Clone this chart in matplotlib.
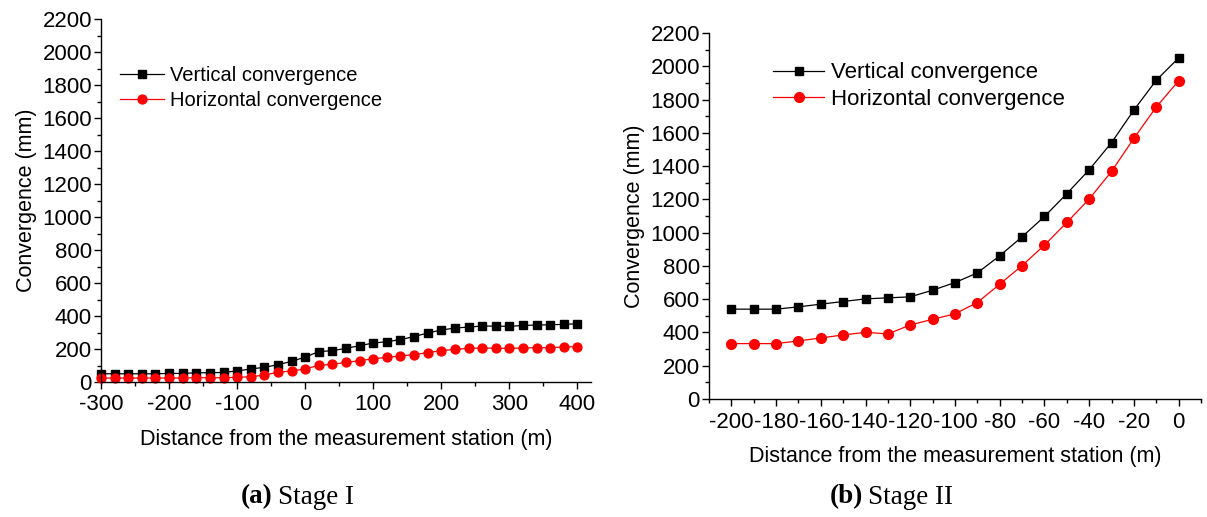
#!/usr/bin/env python3
"""Convergence vs distance from the measurement station, stage I and stage II."""
import matplotlib
matplotlib.use('Agg')
import matplotlib.pyplot as plt
from matplotlib.ticker import MultipleLocator

# ------------------------------ data -------------------------------------
# (a) Stage I
dist_a = list(range(-300, 401, 20))
vert_a = [50, 50, 50, 50, 50, 52, 52, 56, 56, 58, 67, 79, 89, 105, 125, 151,
          184, 190, 204, 220, 236, 244, 257, 275, 297, 315, 327, 333, 339, 339,
          337, 343, 345, 347, 349, 353]
horz_a = [24, 24, 24, 24, 24, 24, 24, 26, 26, 26, 28, 32, 42, 59, 67, 79,
          101, 107, 119, 129, 141, 149, 158, 166, 178, 190, 198, 204, 206, 204,
          204, 206, 208, 208, 212, 214]

# (b) Stage II
dist_b = list(range(-200, 1, 10))
vert_b = [540, 540, 540, 554, 570, 586, 602, 608, 614, 654, 700, 758, 861,
          975, 1097, 1234, 1378, 1541, 1737, 1916, 2050]
horz_b = [333, 333, 333, 349, 367, 385, 401, 391, 445, 479, 512, 580, 690,
          802, 925, 1061, 1202, 1368, 1567, 1755, 1913]

LABELS = ['Vertical convergence', 'Horizontal convergence']
CAPTIONS = [('(a)', 'Stage I'), ('(b)', 'Stage II')]
XLABEL = 'Distance from the measurement station (m)'
YLABEL = 'Convergence (mm)'
# -------------------------------------------------------------------------

plt.rcParams['font.family'] = ['Liberation Sans', 'DejaVu Sans']
plt.rcParams['axes.unicode_minus'] = False
W, H = 1207, 517
fig = plt.figure(figsize=(W / 100, H / 100), dpi=100)


def px_axes(x0, y0, x1, y1):
    """axes from pixel box (left, top, right, bottom)."""
    return fig.add_axes([x0 / W, 1 - y1 / H, (x1 - x0) / W, (y1 - y0) / H])


def style(ax, xmaj, xmin):
    for s in ('top', 'right'):
        ax.spines[s].set_visible(False)
    for s in ('left', 'bottom'):
        ax.spines[s].set_linewidth(1.0)
    ax.xaxis.set_major_locator(MultipleLocator(xmaj))
    ax.xaxis.set_minor_locator(MultipleLocator(xmin))
    ax.yaxis.set_major_locator(MultipleLocator(200))
    ax.yaxis.set_minor_locator(MultipleLocator(100))
    ax.tick_params(which='major', direction='out', length=5, width=1.0,
                   labelsize=16)
    ax.tick_params(axis='y', which='major', pad=1.5)
    ax.tick_params(axis='x', which='major', pad=4)
    ax.tick_params(which='minor', direction='out', length=3, width=1.0)
    ax.set_ylim(0, 2200)
    ax.set_xlabel(XLABEL, fontsize=15.5, labelpad=10)
    ax.set_ylabel(YLABEL, fontsize=15.5, labelpad=4)


def series(ax, x, v, h, ms):
    ax.plot(x, v, color='black', lw=0.9, marker='s', ms=ms, label=LABELS[0],
            clip_on=False)
    ax.plot(x, h, color='red', lw=0.9, marker='o', ms=ms + 1.2, label=LABELS[1],
            clip_on=False)


# (a)
ax1 = px_axes(101, 19, 591, 382)
series(ax1, dist_a, vert_a, horz_a, 5.2)
style(ax1, 100, 50)
ax1.set_xlim(-300, 420)
ax1.legend(loc='upper left', bbox_to_anchor=(0.022, 0.893), frameon=False,
           fontsize=14.5, handlelength=2.2, handletextpad=0.3, labelspacing=0.3,
           borderaxespad=0)

# (b)
ax2 = px_axes(709, 33, 1201, 399)
series(ax2, dist_b, vert_b, horz_b, 5.8)
style(ax2, 20, 10)
ax2.set_xlim(-210, 10)
ax2.legend(loc='upper left', bbox_to_anchor=(0.112, 0.944), frameon=False,
           fontsize=16, handlelength=2.3, handletextpad=0.3, labelspacing=0.25,
           borderaxespad=0)

# captions
for (tag, txt), xr in zip(CAPTIONS, (273, 863)):
    fig.text(xr / W, 1 - 497 / H, tag, ha='right', va='center', fontsize=19.5,
             fontweight='bold', family='Liberation Serif')
    fig.text((xr + 5) / W, 1 - 497 / H, txt, ha='left', va='center',
             fontsize=19.5, family='Liberation Serif')

fig.savefig('out.png', dpi=100)
